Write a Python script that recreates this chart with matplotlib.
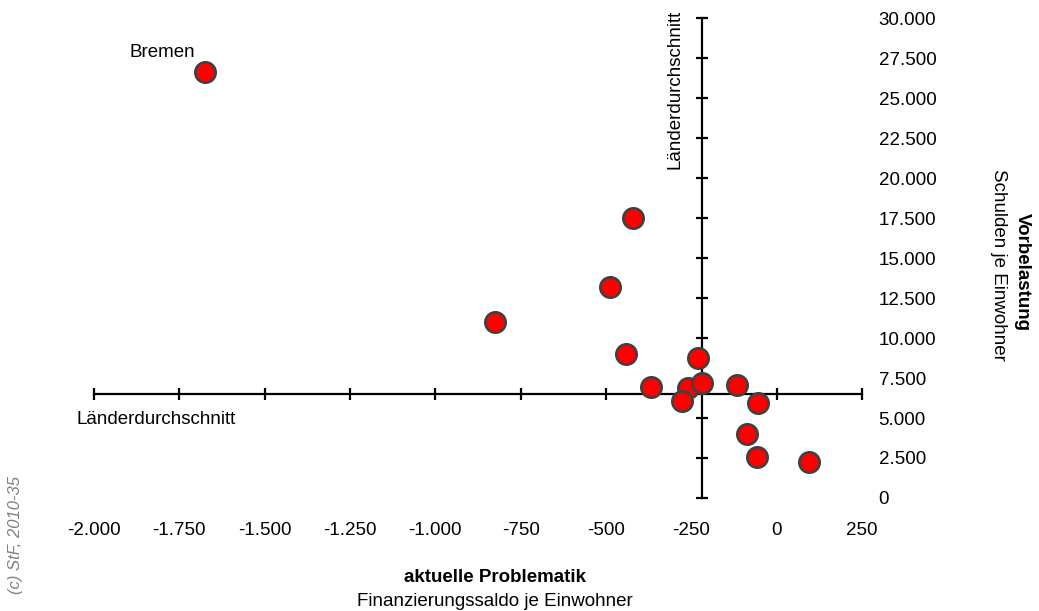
import matplotlib
matplotlib.use("Agg")
import matplotlib.pyplot as plt
import numpy as np

plt.rcParams["font.family"] = ["Liberation Sans", "DejaVu Sans"]

# Finanzierungssaldo je Einwohner (x) vs. Schulden je Einwohner (y)
saldo = [-1675, -421, -488, -825, -441, -368, -230, -260, -277, -219,
         -116, -55, -87, -58, 95]
schulden = [26600, 17500, 13200, 11000, 9000, 6950, 8750, 6900, 6050, 7200,
            7050, 5950, 4000, 2550, 2250]
names = ["Bremen"] + [""] * 14

# Länderdurchschnitt (crossing point of the axes)
avg_x = -219
avg_y = 6500

x_ticks = [-2000, -1750, -1500, -1250, -1000, -750, -500, -250, 0, 250]
x_labels = ["-2.000", "-1.750", "-1.500", "-1.250", "-1.000", "-750", "-500",
            "-250", "0", "250"]
y_ticks = [0, 2500, 5000, 7500, 10000, 12500, 15000, 17500, 20000, 22500,
           25000, 27500, 30000]
y_labels = ["0", "2.500", "5.000", "7.500", "10.000", "12.500", "15.000",
            "17.500", "20.000", "22.500", "25.000", "27.500", "30.000"]

FS = 13.5
W, H = 1039, 611
fig = plt.figure(figsize=(W / 100, H / 100), dpi=100)
ax = fig.add_axes([94 / W, 1 - 498 / H, (862 - 94) / W, (498 - 18) / H])
ax.set_xlim(-2000, 250)
ax.set_ylim(0, 30000)

# axes cross at the average
for s in ("top", "right"):
    ax.spines[s].set_visible(False)
ax.spines["left"].set_position(("data", avg_x))
ax.spines["bottom"].set_position(("data", avg_y))
for s in ("left", "bottom"):
    ax.spines[s].set_linewidth(1.6)
ax.set_xticks(x_ticks)
ax.set_yticks(y_ticks)
ax.tick_params(direction="inout", length=8, width=1.6,
               labelbottom=False, labelleft=False)

ax.scatter(saldo, schulden, s=215, c="#ff0000", edgecolors="#404040",
           linewidths=1.9, zorder=3, clip_on=False)
for xv, yv, nm in zip(saldo, schulden, names):
    if nm:
        ax.annotate(nm, (xv, yv), xytext=(-43, 20), textcoords="offset pixels",
                    ha="center", va="center", fontsize=FS)

# tick labels outside, bottom and right
secx = ax.secondary_xaxis("bottom")
secx.set_xticks(x_ticks, x_labels)
secx.spines["bottom"].set_visible(False)
secx.tick_params(length=0, pad=17, labelsize=FS)

secy = ax.secondary_yaxis("right")
secy.set_yticks(y_ticks, y_labels)
secy.spines["right"].set_visible(False)
secy.tick_params(length=0, pad=12, labelsize=FS)

# average labels
fig.text(77 / W, 1 - 420 / H, "Länderdurchschnitt", ha="left", va="center",
         fontsize=FS)
fig.text(675 / W, 1 - 89 / H, "Länderdurchschnitt", ha="center", va="center",
         rotation=90, fontsize=FS)

# axis titles
fig.text(495 / W, 1 - 578 / H, "aktuelle Problematik", ha="center",
         va="center", fontsize=FS, fontweight="bold")
fig.text(495 / W, 1 - 602 / H, "Finanzierungssaldo je Einwohner",
         ha="center", va="center", fontsize=FS)
fig.text(1022 / W, 1 - 272 / H, "Vorbelastung", ha="center", va="center",
         rotation=-90, fontsize=FS, fontweight="bold")
fig.text(998 / W, 1 - 265 / H, "Schulden je Einwohner", ha="center",
         va="center", rotation=-90, fontsize=FS)

fig.text(16 / W, 1 - 535 / H, "(c) StF, 2010-35", ha="center", va="center",
         rotation=90, fontsize=12, style="italic", color="#808080")

fig.savefig("out.png", dpi=100)
